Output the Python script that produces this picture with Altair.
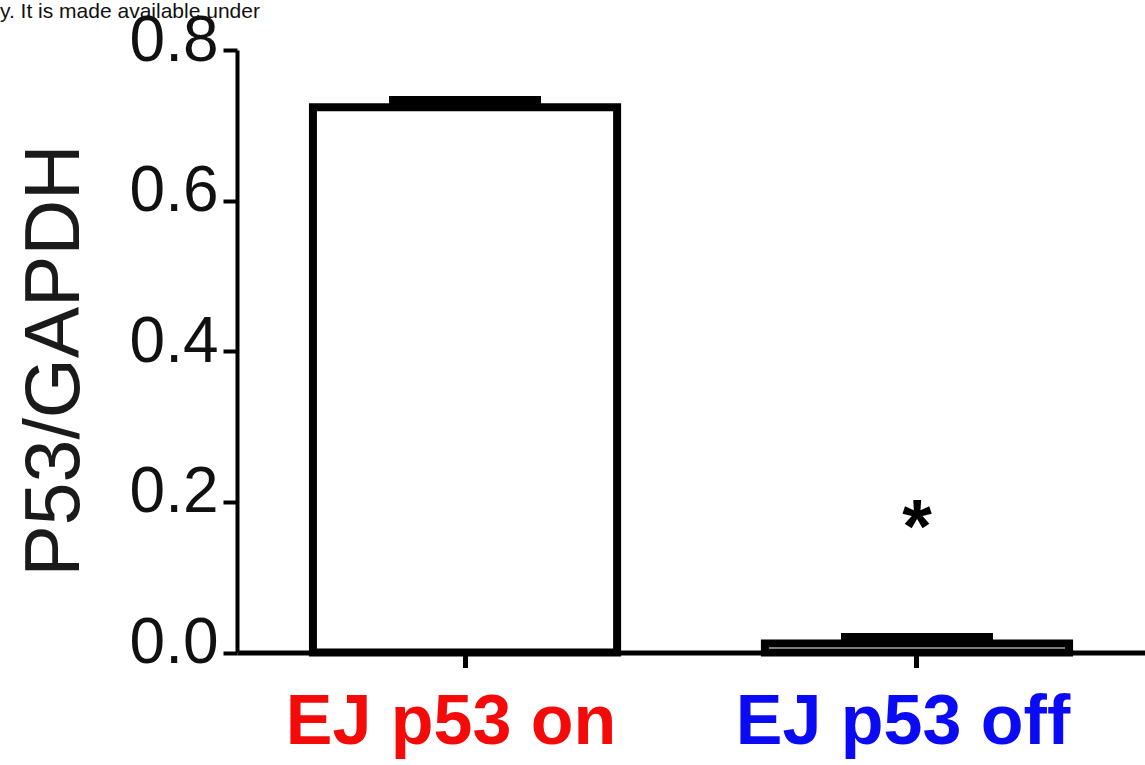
import altair as alt
import pandas as pd

groups = ["EJ p53 on", "EJ p53 off"]
means = [0.724, 0.012]
errors = [0.015, 0.014]
sig_marks = ["", "*"]
sig_y = [None, 0.134]
y_ticks = [0.0, 0.2, 0.4, 0.6, 0.8]
note_text = ["y. It is made available under"]
label_colors = {"EJ p53 on": "#f50a0a", "EJ p53 off": "#0a0af5"}

df = pd.DataFrame({"group": groups, "mean": means, "err": errors})
df["top"] = df["mean"] + df["err"]
sig_df = pd.DataFrame({"group": [g for g, s in zip(groups, sig_marks) if s],
                       "y": [v for v, s in zip(sig_y, sig_marks) if s],
                       "s": [s for s in sig_marks if s]})
note_df = pd.DataFrame({"t": note_text})

FONT = "Liberation Sans"

x_axis = alt.Axis(
    title=None,
    labelAngle=0,
    labelFont=FONT,
    labelFontSize=70,
    labelFontWeight="bold",
    labelLimit=0,
    labelOffset=-14,
    labelColor=alt.ExprRef(expr="datum.value == 'EJ p53 on' ? '%s' : '%s'" % (label_colors["EJ p53 on"], label_colors["EJ p53 off"])),
    labelPadding=21,
    tickSize=15,
    tickWidth=5,
    tickColor="black",
    domainColor="black",
    domainWidth=5,
    grid=False,
)

y_axis = alt.Axis(
    values=y_ticks,
    format=".1f",
    title="P53/GAPDH",
    titleFont=FONT,
    titleFontSize=77,
    titleFontWeight="normal",
    titleColor="#1a1a1a",
    titleAngle=-90,
    titleAlign="center",
    titleBaseline="middle",
    titleX=-182,
    titleY=310,
    labelFont=FONT,
    labelFontSize=64,
    labelColor="#111111",
    labelPadding=5,
    labelOffset=-9,
    tickSize=14,
    tickWidth=4,
    tickColor="black",
    domainColor="black",
    domainWidth=4,
    grid=False,
)

x_scale = alt.Scale(paddingInner=0.327, paddingOuter=0.168)
y_scale = alt.Scale(domain=[0, 0.8], nice=False, zero=True)

def X():
    return alt.X("group:N", sort=groups, scale=x_scale, axis=x_axis)

bars = alt.Chart(df).mark_bar(fill="white", stroke="black", strokeWidth=8).encode(
    x=X(),
    y=alt.Y("mean:Q", scale=y_scale, axis=y_axis),
)

caps = alt.Chart(df).mark_bar(color="black", width=152).encode(
    x=X(),
    y=alt.Y("mean:Q", scale=y_scale, axis=y_axis),
    y2="top:Q",
)

stars = alt.Chart(sig_df).mark_text(
    font=FONT, fontSize=76, fontWeight="bold", baseline="alphabetic", align="center", color="black"
).encode(
    x=X(),
    y=alt.Y("y:Q", scale=y_scale, axis=y_axis),
    text="s:N",
)

note = alt.Chart(note_df).mark_text(
    font=FONT, fontSize=21, align="left", baseline="alphabetic", color="#111111"
).encode(x=alt.value(-237), y=alt.value(-32), text="t:N")

chart = alt.layer(bars, caps, stars, note).properties(
    width=908,
    height=602.5,
    autosize="none",
    background="white",
    padding={"left": 237, "top": 50, "right": 0, "bottom": 112.5},
    view=alt.ViewBackground(strokeOpacity=0, strokeWidth=0),
).configure_view(strokeWidth=0, strokeOpacity=0).configure_axis(grid=False)

chart.save("out.html", embed_options={"renderer": "svg", "actions": False})
